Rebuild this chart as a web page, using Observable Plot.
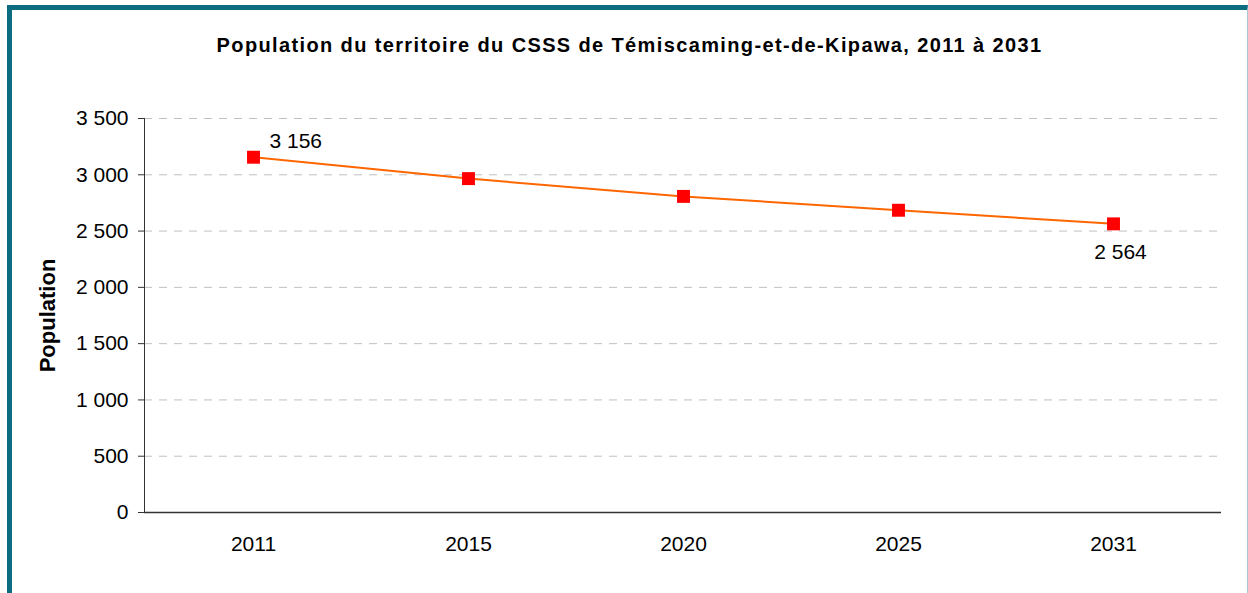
<!DOCTYPE html>
<html>
<head>
<meta charset="utf-8">
<script src="https://cdn.jsdelivr.net/npm/d3@7"></script>
<script src="https://cdn.jsdelivr.net/npm/@observablehq/plot@0.6"></script>
<style>
  html, body { margin: 0; padding: 0; background: #fff; overflow: hidden; }
  #card {
    margin-left: 7px;
    margin-top: 5px;
    width: 1235px;
    height: 640px;
    border-top: 5px solid #0e6c80;
    border-left: 5px solid #0e6c80;
    border-right: 1px solid #a6cbd3;
    font-family: "Liberation Sans", Arial, sans-serif;
  }
  #title {
    height: 60px;
    box-sizing: border-box;
    padding-top: 23px;
    line-height: 24px;
    font-size: 20px;
    font-weight: bold;
    text-align: center;
    color: #000;
    letter-spacing: 1.37px;
  }
</style>
</head>
<body>
<div id="card">
  <div id="title">Population du territoire du CSSS de Témiscaming-et-de-Kipawa, 2011 à 2031</div>
  <div id="chart"></div>
</div>
<script>
const years = ["2011", "2015", "2020", "2025", "2031"];
const population = [3156, 2966, 2808, 2685, 2564];
const yTicks = [0, 500, 1000, 1500, 2000, 2500, 3000, 3500];
const yLabel = "Population";

const data = years.map((y, i) => ({year: y, value: population[i]}));
const fr = d3.formatLocale({decimal: ",", thousands: " ", grouping: [3], currency: ["", " $"]});
const fmt = fr.format(",d");

const chart = Plot.plot({
  width: 1235,
  height: 523,
  marginLeft: 132,
  marginRight: 26,
  marginTop: 48,
  marginBottom: 81,
  style: {fontFamily: "'Liberation Sans', Arial, sans-serif", color: "#000", background: "#fff"},
  x: {type: "point", domain: years, padding: 0.5, align: 0.5},
  y: {domain: [0, 3500]},
  marks: [
    Plot.ruleY(yTicks.filter(d => d > 0), {stroke: "#c0c0c0", strokeWidth: 1, strokeDasharray: "8,7"}),
    Plot.axisY({ticks: yTicks, tickFormat: fmt, tickSize: 6, tickPadding: 10, fontSize: 21, label: null, stroke: "#333"}),
    Plot.axisX({tickSize: 0, tickPadding: 24, fontSize: 21, label: null}),
    Plot.frame({anchor: "left", stroke: "#333"}),
    Plot.ruleY([0], {stroke: "#333", strokeWidth: 1.5}),
    Plot.line(data, {x: "year", y: "value", stroke: "#ff6600", strokeWidth: 2}),
    Plot.dot(data, {x: "year", y: "value", symbol: "square", r: 7.3, fill: "#ff0000", stroke: "none"}),
    Plot.text(data.filter(d => d.year === years[0]), {x: "year", y: "value", text: d => fmt(d.value), textAnchor: "start", dx: 16, dy: -16, fontSize: 21, fill: "#000"}),
    Plot.text(data.filter(d => d.year === years[years.length - 1]), {x: "year", y: "value", text: d => fmt(d.value), textAnchor: "middle", dx: 7, dy: 28, fontSize: 21, fill: "#000"}),
    Plot.text([yLabel], {frameAnchor: "left", text: d => d, rotate: -90, dx: -97, fontSize: 22, fontWeight: "bold", textAnchor: "middle", fill: "#000"})
  ]
});
document.getElementById("chart").appendChild(chart);
</script>
</body>
</html>
